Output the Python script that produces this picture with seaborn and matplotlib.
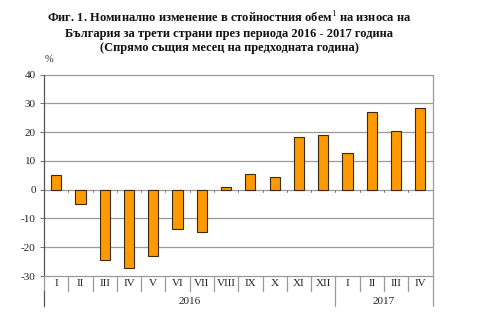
import matplotlib
matplotlib.use("Agg")
import matplotlib.pyplot as plt
import matplotlib.transforms as mtransforms
import seaborn as sns
import pandas as pd

months = ["I", "II", "III", "IV", "V", "VI", "VII", "VIII", "IX", "X", "XI", "XII",
          "I", "II", "III", "IV"]
years = ["2016", "2017"]
year_counts = [12, 4]
values = [5.0, -4.9, -24.3, -27.2, -23.2, -13.6, -14.6, 0.9, 5.6, 4.4, 18.4, 19.0,
          12.6, 27.1, 20.3, 28.3]
yticks = [-30, -20, -10, 0, 10, 20, 30, 40]

title = ("Фиг. 1. Номинално изменение в стойностния обем$^{1}$ на износа на\n"
         "България за трети страни през периода 2016 - 2017 година\n"
         "(Спрямо същия месец на предходната година)")

sns.set_theme(style="white")
plt.rcParams["font.family"] = ["Liberation Serif", "DejaVu Serif"]
plt.rcParams["mathtext.fontset"] = "custom"
plt.rcParams["mathtext.rm"] = "Liberation Serif"

df = pd.DataFrame({"pos": list(range(len(values))), "value": values})

fig = plt.figure(figsize=(5, 3.3), dpi=100)
W, H = 500, 330
left, right, top, bottom = 44, 432.5, 74.5, 276
ax = fig.add_axes([left / W, 1 - bottom / H, (right - left) / W, (bottom - top) / H])

sns.barplot(data=df, x="pos", y="value", ax=ax, color="#FF9900", saturation=1,
            width=0.42, edgecolor="#3a2a10", linewidth=0.8, native_scale=True,
            zorder=3)

ax.set_xlim(-0.5, len(values) - 0.5)
ax.set_ylim(-30, 40)
ax.set_yticks(yticks)
ax.set_yticklabels([str(t) for t in yticks], fontsize=8, color="#222222")
ax.tick_params(axis="y", length=3, width=0.6, color="#555555", pad=3, left=True)
ax.set_xticks([])
ax.set_xlabel("")
ax.set_ylabel("")

for t in yticks[1:]:
    ax.axhline(t, color="#9a9a9a", lw=0.9, zorder=1)

ax.spines["top"].set_visible(False)
ax.spines["right"].set_color("#9a9a9a")
ax.spines["right"].set_linewidth(0.9)
ax.spines["left"].set_color("#555555")
ax.spines["left"].set_linewidth(0.9)
ax.spines["bottom"].set_color("#9a9a9a")
ax.spines["bottom"].set_linewidth(0.9)

# small tick marks on the zero line at category boundaries
for i in range(len(values) + 1):
    ax.plot([i - 0.5, i - 0.5], [0, -0.8], color="#777777", lw=0.7, zorder=2)

# category axis below the plot: month row and year row
trans = mtransforms.blended_transform_factory(ax.transData, ax.transAxes)
ax_h = bottom - top
row1 = -15 / ax_h
row2 = -30 / ax_h
for i in range(len(values) + 1):
    ax.plot([i - 0.5, i - 0.5], [0, row1], transform=trans, color="#9a9a9a",
            lw=0.9, clip_on=False)
for i, m in enumerate(months):
    ax.text(i, -7.5 / ax_h, m, transform=trans, ha="center", va="center",
            fontsize=8, color="#222222")

start = 0
bounds = [0]
for y, n in zip(years, year_counts):
    ax.text(start + (n - 1) / 2, -25 / ax_h, y, transform=trans, ha="center",
            va="center", fontsize=8, color="#222222")
    start += n
    bounds.append(start)
for b in bounds:
    ax.plot([b - 0.5, b - 0.5], [row1, row2], transform=trans,
            color="#555555" if b == 0 else "#9a9a9a", lw=0.9, clip_on=False)

fig.text(229 / W, 1 - 10 / H, title, ha="center", va="top", fontsize=9,
         fontweight="bold", linespacing=1.25, color="#111111")
fig.text(49 / W, 1 - 60 / H, "%", ha="center", va="center", fontsize=7.5,
         color="#222222")

fig.savefig("out.png", dpi=100)
